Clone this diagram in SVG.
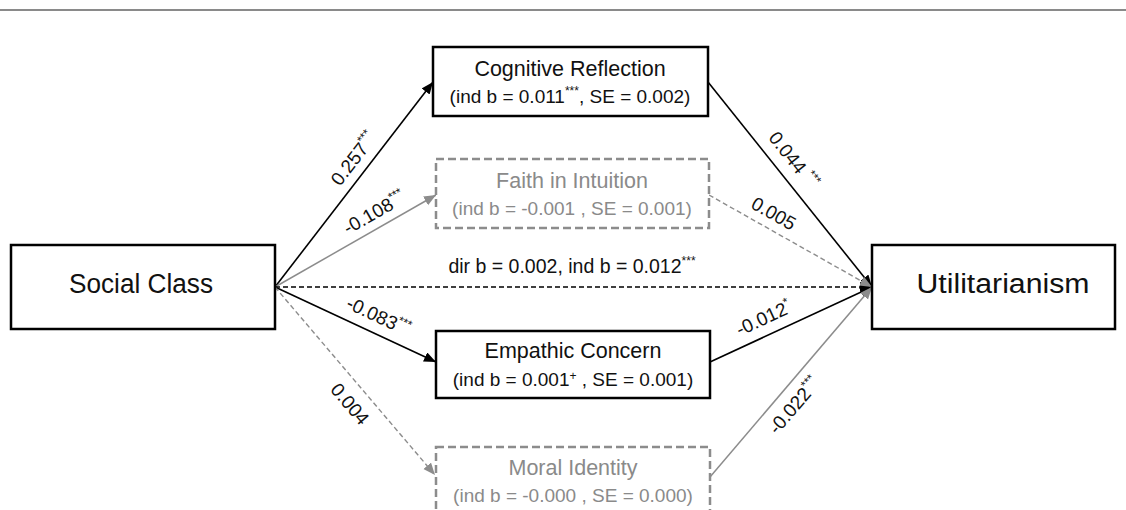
<svg xmlns="http://www.w3.org/2000/svg" width="1126" height="510" viewBox="0 0 1126 510">
<defs>
<style>
text{font-family:"Liberation Sans",Arial,sans-serif;}
.box{fill:#fff;stroke:#000;stroke-width:2.5;}
.gbox{fill:#fff;stroke:#8c8c8c;stroke-width:2.5;stroke-dasharray:8 4;}
.t1{font-size:21.5px;fill:#111;text-anchor:middle;}
.t2{font-size:19px;fill:#111;text-anchor:middle;}
.g{fill:#8a8a8a;}
.big{font-size:27px;fill:#111;text-anchor:middle;}
.lab{font-size:19px;fill:#111;text-anchor:middle;}
.sup{font-size:12px;}
.e{fill:none;stroke:#000;stroke-width:1.6;}
.ge{fill:none;stroke:#8c8c8c;stroke-width:1.5;}
.gd{fill:none;stroke:#8c8c8c;stroke-width:1.4;stroke-dasharray:5 3;}
.bd{fill:none;stroke:#000;stroke-width:1.6;stroke-dasharray:5 3;}
</style>
<marker id="ab" markerUnits="userSpaceOnUse" markerWidth="14" markerHeight="12" refX="12" refY="5" orient="auto"><path d="M0,0 L12,5 L0,10 Z" fill="#000"/></marker>
<marker id="ag" markerUnits="userSpaceOnUse" markerWidth="14" markerHeight="12" refX="12" refY="5" orient="auto"><path d="M0,0 L12,5 L0,10 Z" fill="#8c8c8c"/></marker>
</defs>
<rect width="1126" height="510" fill="#fff"/>
<line x1="0" y1="10" x2="1126" y2="10" stroke="#8a8a8a" stroke-width="2"/>

<g id="connectors">
<line class="e" x1="275" y1="287" x2="433" y2="82" marker-end="url(#ab)"/>
<line class="ge" x1="275" y1="287" x2="436" y2="195" marker-end="url(#ag)"/>
<line class="bd" x1="275" y1="287" x2="872" y2="287" marker-end="url(#ab)"/>
<line class="e" x1="275" y1="287" x2="436" y2="362" marker-end="url(#ab)"/>
<line class="gd" x1="275" y1="287" x2="435" y2="475" marker-end="url(#ag)"/>
<line class="e" x1="708" y1="82" x2="872" y2="287" marker-end="url(#ab)"/>
<line class="gd" x1="709" y1="195" x2="872" y2="287" marker-end="url(#ag)"/>
<line class="e" x1="710" y1="362" x2="872" y2="287" marker-end="url(#ab)"/>
<line class="ge" x1="710" y1="477" x2="872" y2="287" marker-end="url(#ag)"/>

<text class="lab" transform="translate(366,168) rotate(-52.4)" y="-9">0.257<tspan class="sup" dy="-8">***</tspan></text>
<text class="lab g" transform="translate(382,226) rotate(-29.7)" y="-9">-0.108<tspan class="sup" dy="-8">***</tspan></text>
<text class="lab" transform="translate(780,171) rotate(51.3)" y="-11">0.044 <tspan class="sup" dy="-8">***</tspan></text>
<text class="lab g" transform="translate(766,227) rotate(29.4)" y="-9">0.005</text>
<text class="lab" transform="translate(371,332) rotate(25)" y="-11">-0.083<tspan class="sup" dy="-8">***</tspan></text>
<text class="lab g" transform="translate(364,392) rotate(49.6)" y="25">0.004</text>
<text class="lab" transform="translate(771,334) rotate(-24.8)" y="-11">-0.012<tspan class="sup" dy="-8">*</tspan></text>
<text class="lab g" transform="translate(781,394) rotate(-49.5)" y="24">-0.022<tspan class="sup" dy="-8">***</tspan></text>
<text class="t1" x="572" y="273" style="font-size:19.5px">dir b = 0.002, ind b = 0.012<tspan class="sup" dy="-8">***</tspan></text>
</g>

<g id="social-class">
<rect class="box" x="11" y="245" width="264" height="84"/>
<text class="big" x="141" y="293" textLength="144" lengthAdjust="spacingAndGlyphs">Social Class</text>
</g>
<g id="utilitarianism">
<rect class="box" x="872" y="245" width="243" height="84"/>
<text class="big" x="1003" y="293" textLength="173" lengthAdjust="spacingAndGlyphs">Utilitarianism</text>
</g>
<g id="cognitive-reflection">
<rect class="box" x="433" y="47" width="275" height="69"/>
<text class="t1" x="570" y="76">Cognitive Reflection</text>
<text class="t2" x="570" y="103">(ind b = 0.011<tspan class="sup" dy="-8">***</tspan><tspan dy="8">, SE = 0.002)</tspan></text>
</g>
<g id="faith-in-intuition">
<rect class="gbox" x="436" y="159" width="273" height="69"/>
<text class="t1 g" x="572" y="188">Faith in Intuition</text>
<text class="t2 g" x="572" y="215">(ind b = -0.001 , SE = 0.001)</text>
</g>
<g id="empathic-concern">
<rect class="box" x="436" y="331" width="274" height="67"/>
<text class="t1" x="573" y="358">Empathic Concern</text>
<text class="t2" x="573" y="386">(ind b = 0.001<tspan class="sup" dy="-6">+</tspan><tspan dy="6"> , SE = 0.001)</tspan></text>
</g>
<g id="moral-identity">
<rect class="gbox" x="436" y="447" width="274" height="75"/>
<text class="t1 g" x="573" y="475">Moral Identity</text>
<text class="t2 g" x="573" y="502">(ind b = -0.000 , SE = 0.000)</text>
</g>
</svg>
